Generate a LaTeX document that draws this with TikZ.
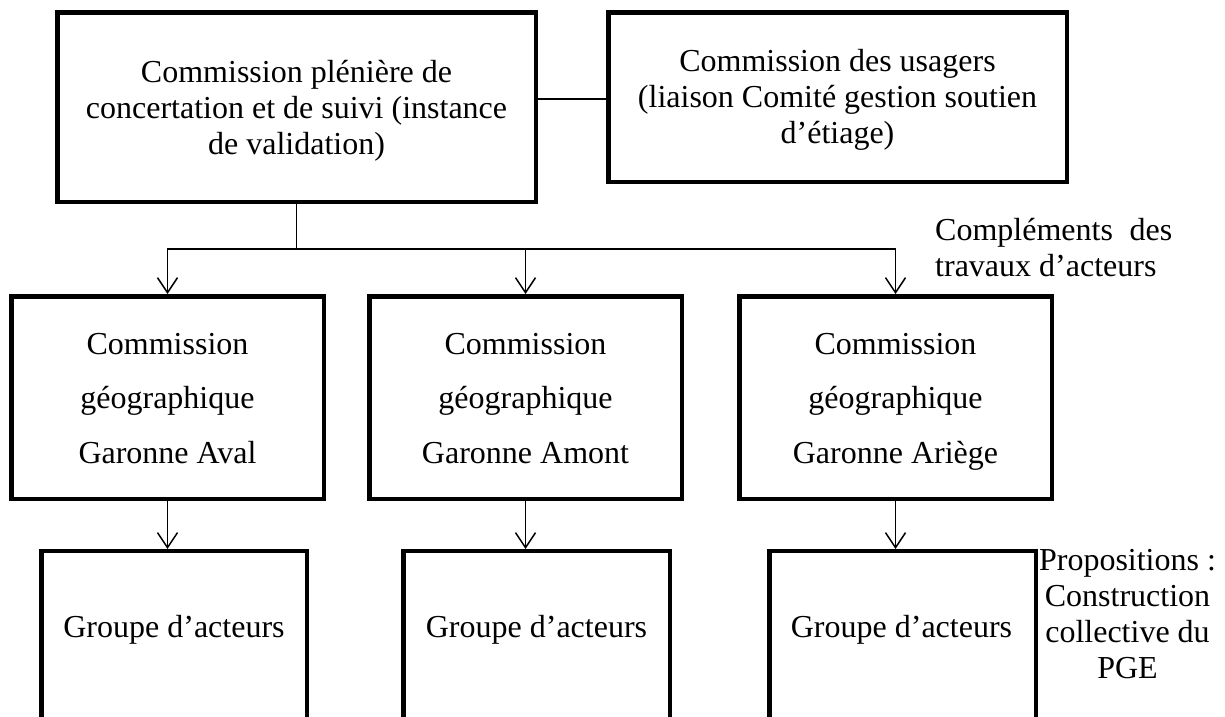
\documentclass[tikz,border=0pt]{standalone}
\usepackage{fontspec}
\setmainfont{Liberation Serif}
\usetikzlibrary{arrows.meta}
\newcommand\ctrlines[1]{\begin{tabular}[t]{@{}c@{}}#1\end{tabular}}
\begin{document}
\begin{tikzpicture}[x=1pt,y=-1pt,
  box/.style={draw, line width=4.5pt, rectangle, inner sep=0pt},
  link/.style={draw, line width=1.5pt},
  arr/.style={link, -{Straight Barb[length=15pt,width=20pt,line width=1.5pt]}},
  txt/.style={inner sep=0pt, anchor=base, font=\fontsize{32}{36}\selectfont},
  txtwide/.style={txt, font=\fontsize{32}{54.5}\selectfont}]
\useasboundingbox (0,0) rectangle (1225,716);
\clip (0,0) rectangle (1225,716);
\fill[white] (0,0) rectangle (1225,716);

% boxes
\node[box, minimum width=478.5pt, minimum height=189.5pt] (top) at (296.5,107) {};
\node[box, minimum width=458.5pt, minimum height=169.5pt] (right) at (837.5,97) {};
\node[box, minimum width=312.5pt, minimum height=202.5pt] (mida) at (167.5,397.5) {};
\node[box, minimum width=312.5pt, minimum height=202.5pt] (midb) at (525.5,397.5) {};
\node[box, minimum width=312.5pt, minimum height=202.5pt] (midc) at (895.5,397.5) {};
\node[box, minimum width=265.5pt, minimum height=188.75pt] (bota) at (174,645.6) {};
\node[box, minimum width=266.5pt, minimum height=188.75pt] (botb) at (536.5,645.6) {};
\node[box, minimum width=266.5pt, minimum height=188.75pt] (botc) at (902.5,645.6) {};

% texts
\node[txt] (ttop) at (296.5,82) {\ctrlines{Commission plénière de\\concertation et de suivi (instance\\de validation)}};
\node[txt] (tright) at (837.5,71) {\ctrlines{Commission des usagers\\(liaison Comité gestion soutien\\d’étiage)}};
\node[txtwide] (tmida) at (167.5,354) {\ctrlines{Commission\\géographique\\Garonne Aval}};
\node[txtwide] (tmidb) at (525.5,354) {\ctrlines{Commission\\géographique\\Garonne Amont}};
\node[txtwide] (tmidc) at (895.5,354) {\ctrlines{Commission\\géographique\\Garonne Ariège}};
\node[txt] (tbota) at (174,637) {Groupe d’acteurs};
\node[txt] (tbotb) at (536.5,637) {Groupe d’acteurs};
\node[txt] (tbotc) at (901.5,637) {Groupe d’acteurs};
\node[txt, anchor=base west] (tcompl) at (935,240.5) {\begin{tabular}[t]{@{}l@{}}\makebox[237pt][s]{Compléments des}\\travaux d’acteurs\end{tabular}};
\node[txt] (tprop) at (1127.5,570) {\ctrlines{Propositions :\\Construction\\collective du\\PGE}};

% connectors
\coordinate (bus) at (296.5,249);
\draw[link] ([yshift=8pt]top.east) -- ([yshift=-2pt]right.west);
\draw[link] (top.south) -- (bus);
\draw[arr] (bus) -| (mida.north);
\draw[arr] (bus) -| (midb.north);
\draw[arr] (bus) -| (midc.north);
\draw[arr] (mida.south) -- (mida.south |- bota.north);
\draw[arr] (midb.south) -- (midb.south |- botb.north);
\draw[arr] (midc.south) -- (midc.south |- botc.north);
\end{tikzpicture}
\end{document}
